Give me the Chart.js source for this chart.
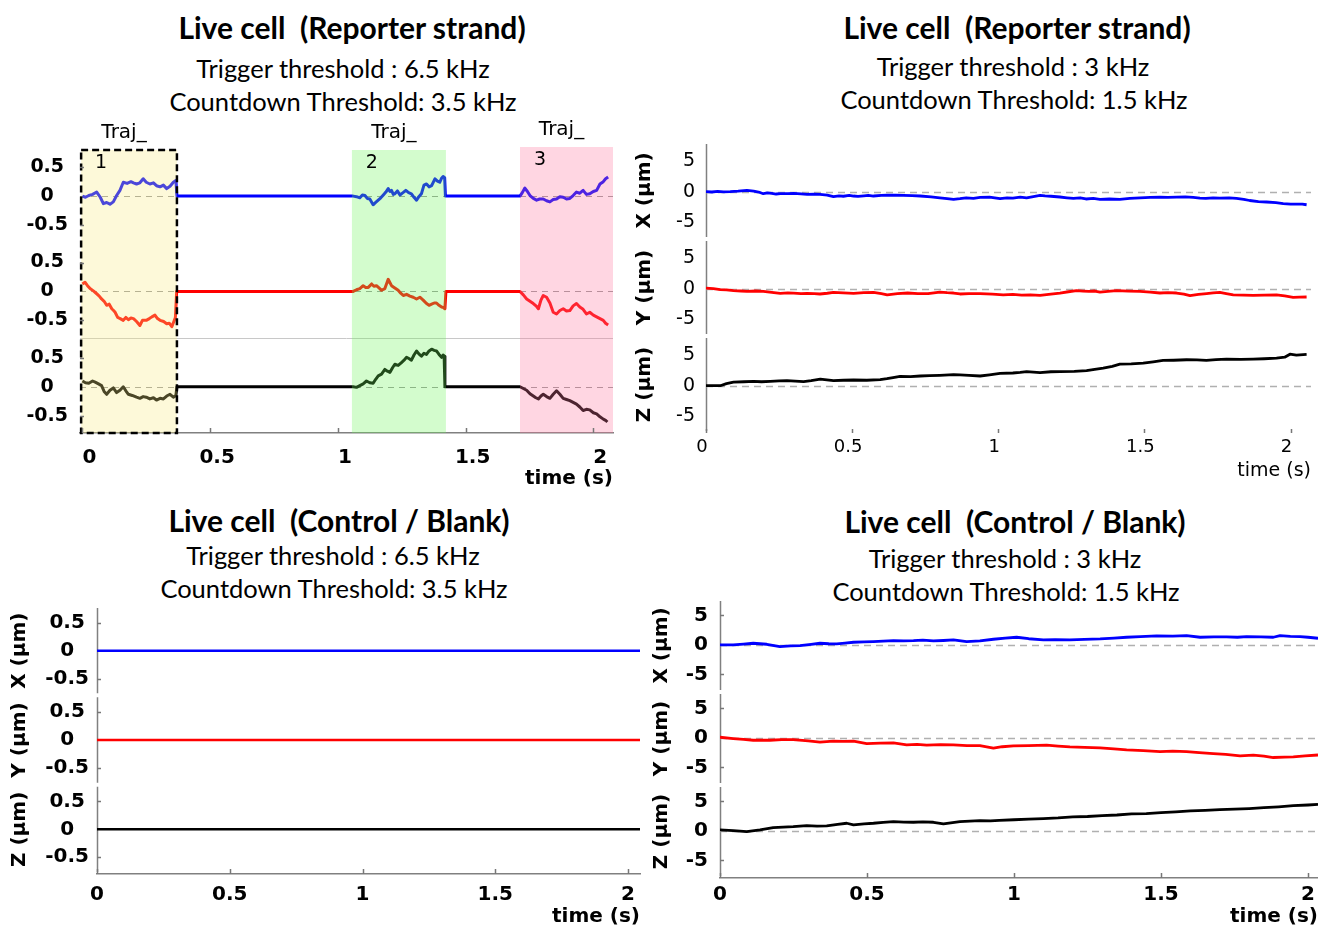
<!DOCTYPE html>
<html lang="en">
<head>
<meta charset="UTF-8">
<title>Live cell 3D tracking</title>
<script src="https://cdn.jsdelivr.net/npm/chart.js"></script>
<style>
  html, body { margin: 0; padding: 0; background: #fff; overflow: hidden; }
  body { width: 1318px; height: 930px; position: relative; font-family: Lato, "Open Sans", sans-serif; color: #000; }
  canvas { position: absolute; }
  .txt { position: absolute; transform: translate(-50%, -50%); white-space: pre; line-height: 1; }
  .ttl { font-weight: bold; font-size: 30px; }
  .sub { font-size: 25.5px; }
</style>
</head>
<body>
<div class="txt ttl" style="left:352px;top:27px">Live cell  (Reporter strand)</div>
<div class="txt sub" style="left:343px;top:69px">Trigger threshold : 6.5 kHz</div>
<div class="txt sub" style="left:343px;top:102px">Countdown Threshold: 3.5 kHz</div>

<div class="txt ttl" style="left:1017px;top:27px">Live cell  (Reporter strand)</div>
<div class="txt sub" style="left:1013px;top:67px">Trigger threshold : 3 kHz</div>
<div class="txt sub" style="left:1014px;top:100px">Countdown Threshold: 1.5 kHz</div>

<div class="txt ttl" style="left:339px;top:520px">Live cell  (Control / Blank)</div>
<div class="txt sub" style="left:333px;top:556px">Trigger threshold : 6.5 kHz</div>
<div class="txt sub" style="left:334px;top:589px">Countdown Threshold: 3.5 kHz</div>

<div class="txt ttl" style="left:1015px;top:521px">Live cell  (Control / Blank)</div>
<div class="txt sub" style="left:1005px;top:559px">Trigger threshold : 3 kHz</div>
<div class="txt sub" style="left:1006px;top:592px">Countdown Threshold: 1.5 kHz</div>

<canvas id="rep-fast" width="660" height="400" style="left:0;top:100px;width:660px;height:400px"></canvas>
<canvas id="rep-slow" width="745" height="390" style="left:600px;top:100px;width:745px;height:390px"></canvas>
<canvas id="ctl-fast" width="680" height="370" style="left:0;top:560px;width:680px;height:370px"></canvas>
<canvas id="ctl-slow" width="750" height="375" style="left:600px;top:555px;width:750px;height:375px"></canvas>

<script>
// ---- axis ticks ----
const timeTicks = [0, 0.5, 1, 1.5, 2];
const fineTicks = [-0.5, 0, 0.5];
const coarseTicks = [-5, 0, 5];

// ---- reporter strand, 6.5 kHz trigger: gated trajectory windows (s) ----
const trajStart = [-0.005, 1.055, 1.713];
const trajEnd = [0.37, 1.423, 2.077];
const trajNames = ['1', '2', '3'];

// X (um) -- three gated segments joined by the idle baseline
const repFastTimeX = [
  0, 0.012, 0.025, 0.04, 0.056, 0.07, 0.082, 0.095, 0.108, 0.121, 0.134, 0.147, 0.16, 0.175, 0.19, 0.2, 0.212, 0.225, 0.238, 0.25, 0.264, 0.278, 0.29, 0.304, 0.317, 0.33, 0.343, 0.356, 0.366, 0.37,
  1.06, 1.073, 1.086, 1.096, 1.106, 1.115, 1.125, 1.138, 1.148, 1.158, 1.168, 1.178, 1.188, 1.197, 1.204, 1.21, 1.217, 1.223, 1.233, 1.243, 1.255, 1.266, 1.277, 1.288, 1.298, 1.308, 1.317, 1.327, 1.337, 1.347, 1.357, 1.367, 1.38, 1.39, 1.399, 1.406, 1.412, 1.418, 1.421,
  1.713, 1.722, 1.732, 1.742, 1.752, 1.765, 1.778, 1.79, 1.804, 1.817, 1.83, 1.843, 1.856, 1.869, 1.882, 1.895, 1.908, 1.921, 1.934, 1.947, 1.96, 1.973, 1.986, 2.0, 2.013, 2.026, 2.039, 2.048, 2.058
];
const repFastX = [
  0, -0.02, 0.01, 0.03, 0.07, -0.02, -0.13, -0.11, -0.14, -0.1, 0.01, 0.1, 0.24, 0.22, 0.25, 0.23, 0.21, 0.23, 0.3, 0.24, 0.21, 0.23, 0.18, 0.16, 0.19, 0.13, 0.17, 0.24, 0.27, 0,
  0, -0.01, -0.03, 0.02, 0.01, -0.04, -0.05, -0.15, -0.11, -0.07, -0.03, 0.02, 0.07, 0.13, 0.08, 0.1, 0.03, 0.04, 0.09, 0.02, 0.06, 0.1, 0.06, 0.04, -0.02, -0.07, -0.01, 0.04, 0.19, 0.21, 0.16, 0.18, 0.3, 0.26, 0.24, 0.31, 0.34, 0.32, 0,
  0, 0.06, 0.14, 0.08, 0.01, -0.04, -0.07, -0.05, -0.05, -0.08, -0.1, -0.06, -0.05, -0.01, -0.02, -0.05, -0.04, 0.01, 0.07, 0.05, 0.1, 0.03, 0.04, 0.08, 0.1, 0.21, 0.25, 0.3, 0.33
];

// Y (um)
const repFastTimeY = [
  0, 0.01, 0.02, 0.03, 0.043, 0.056, 0.066, 0.075, 0.085, 0.095, 0.105, 0.115, 0.122, 0.128, 0.138, 0.148, 0.16, 0.17, 0.18, 0.19, 0.2, 0.212, 0.225, 0.235, 0.25, 0.262, 0.272, 0.284, 0.294, 0.304, 0.318, 0.33, 0.34, 0.35, 0.358, 0.364, 0.369,
  1.06, 1.073, 1.086, 1.099, 1.109, 1.119, 1.132, 1.141, 1.151, 1.161, 1.171, 1.184, 1.197, 1.204, 1.21, 1.223, 1.236, 1.246, 1.256, 1.269, 1.282, 1.295, 1.308, 1.321, 1.334, 1.347, 1.357, 1.367, 1.377, 1.386, 1.396, 1.406, 1.414, 1.419, 1.423,
  1.713, 1.726, 1.739, 1.752, 1.765, 1.778, 1.785, 1.795, 1.804, 1.817, 1.83, 1.843, 1.856, 1.869, 1.882, 1.895, 1.908, 1.921, 1.934, 1.947, 1.96, 1.973, 1.986, 2.0, 2.013, 2.026, 2.039, 2.048, 2.058
];
const repFastY = [
  0.13, 0.16, 0.1, 0.05, 0.01, -0.04, -0.08, -0.13, -0.17, -0.24, -0.22, -0.3, -0.33, -0.36, -0.45, -0.47, -0.5, -0.45, -0.49, -0.46, -0.47, -0.52, -0.59, -0.5, -0.5, -0.47, -0.44, -0.41, -0.47, -0.5, -0.52, -0.56, -0.55, -0.61, -0.52, -0.45, 0,
  0, 0.03, 0.05, 0.1, 0.07, 0.07, 0.13, 0.09, 0.1, 0.06, 0.02, 0.05, 0.21, 0.15, 0.1, 0.06, 0.02, -0.03, -0.07, -0.05, -0.08, -0.1, -0.13, -0.1, -0.15, -0.21, -0.24, -0.22, -0.2, -0.2, -0.24, -0.27, -0.28, -0.3, 0,
  0, -0.06, -0.13, -0.17, -0.21, -0.26, -0.3, -0.15, -0.07, -0.1, -0.2, -0.36, -0.39, -0.33, -0.3, -0.34, -0.33, -0.25, -0.21, -0.27, -0.31, -0.39, -0.36, -0.41, -0.44, -0.47, -0.5, -0.55, -0.58
];

// Z (um)
const repFastTimeZ = [
  0, 0.012, 0.025, 0.04, 0.05, 0.063, 0.075, 0.085, 0.095, 0.108, 0.121, 0.134, 0.147, 0.16, 0.17, 0.18, 0.195, 0.212, 0.225, 0.238, 0.25, 0.264, 0.278, 0.29, 0.304, 0.317, 0.33, 0.343, 0.356, 0.366, 0.37,
  1.06, 1.073, 1.086, 1.099, 1.112, 1.125, 1.138, 1.148, 1.158, 1.171, 1.184, 1.194, 1.204, 1.214, 1.223, 1.236, 1.249, 1.259, 1.269, 1.278, 1.288, 1.298, 1.308, 1.317, 1.327, 1.337, 1.347, 1.357, 1.367, 1.377, 1.386, 1.396, 1.406, 1.412, 1.416, 1.419,
  1.713, 1.726, 1.739, 1.752, 1.765, 1.775, 1.785, 1.795, 1.804, 1.817, 1.83, 1.843, 1.856, 1.869, 1.882, 1.895, 1.908, 1.921, 1.934, 1.947, 1.96, 1.973, 1.986, 2.0, 2.013, 2.026, 2.039, 2.048, 2.055
];
const repFastZ = [
  0.1, 0.07, 0.06, 0.1, 0.08, 0.05, 0.02, -0.08, -0.13, -0.06, -0.02, -0.1, -0.06, 0, -0.07, -0.13, -0.15, -0.18, -0.2, -0.17, -0.18, -0.21, -0.19, -0.23, -0.2, -0.21, -0.16, -0.13, -0.18, -0.15, 0,
  0, -0.01, 0.02, 0.05, 0.1, 0.07, 0.06, 0.13, 0.19, 0.22, 0.3, 0.27, 0.25, 0.33, 0.39, 0.37, 0.42, 0.46, 0.51, 0.49, 0.46, 0.55, 0.62, 0.57, 0.53, 0.58, 0.56, 0.62, 0.65, 0.63, 0.62, 0.56, 0.51, 0.55, 0.53, 0,
  0, -0.03, -0.06, -0.12, -0.16, -0.19, -0.21, -0.16, -0.13, -0.17, -0.2, -0.13, -0.07, -0.13, -0.2, -0.22, -0.24, -0.27, -0.3, -0.35, -0.41, -0.39, -0.4, -0.45, -0.47, -0.52, -0.56, -0.58, -0.61
];

// ---- reporter strand, 3 kHz trigger: continuous track ----
const repSlowTimeX = [0, 0.02, 0.04, 0.06, 0.083, 0.11, 0.14, 0.163, 0.18, 0.196, 0.21, 0.225, 0.24, 0.254, 0.28, 0.3, 0.325, 0.346, 0.37, 0.39, 0.415, 0.436, 0.455, 0.47, 0.49, 0.505, 0.52, 0.54, 0.555, 0.573, 0.6, 0.62, 0.65, 0.675, 0.705, 0.733, 0.77, 0.8, 0.825, 0.847, 0.869, 0.89, 0.915, 0.938, 0.97, 1.006, 1.03, 1.05, 1.075, 1.097, 1.12, 1.143, 1.16, 1.18, 1.211, 1.235, 1.257, 1.28, 1.3, 1.325, 1.348, 1.38, 1.416, 1.45, 1.485, 1.52, 1.553, 1.58, 1.61, 1.64, 1.667, 1.69, 1.71, 1.735, 1.758, 1.79, 1.815, 1.84, 1.86, 1.89, 1.918, 1.95, 1.975, 2.0, 2.02, 2.04, 2.055];
const repSlowX = [0, -0.05, 0.05, -0.02, 0, 0.08, 0.22, 0.1, -0.05, -0.33, -0.2, -0.28, -0.38, -0.33, -0.3, -0.27, -0.35, -0.44, -0.4, -0.44, -0.55, -0.82, -0.7, -0.75, -0.62, -0.71, -0.78, -0.68, -0.6, -0.71, -0.62, -0.55, -0.58, -0.6, -0.65, -0.71, -0.85, -1.0, -1.15, -1.27, -1.15, -1.0, -1.1, -0.95, -0.9, -1.15, -1.0, -1.05, -0.9, -1.0, -0.8, -0.6, -0.7, -0.75, -0.87, -1.0, -1.1, -1.0, -1.2, -1.1, -1.25, -1.2, -1.25, -1.1, -1.0, -0.95, -0.9, -0.95, -0.9, -0.85, -0.95, -1.05, -1.1, -1.0, -1.05, -1.0, -1.1, -1.25, -1.45, -1.65, -1.7, -1.8, -1.95, -2.05, -2.05, -2.05, -2.15, -2.2];

const repSlowTimeY = [0, 0.025, 0.049, 0.07, 0.094, 0.12, 0.14, 0.17, 0.196, 0.225, 0.254, 0.28, 0.3, 0.325, 0.346, 0.37, 0.39, 0.415, 0.436, 0.47, 0.505, 0.54, 0.573, 0.6, 0.62, 0.655, 0.69, 0.725, 0.76, 0.8, 0.825, 0.847, 0.869, 0.9, 0.938, 0.98, 1.017, 1.05, 1.08, 1.11, 1.143, 1.18, 1.211, 1.24, 1.268, 1.29, 1.31, 1.33, 1.348, 1.375, 1.405, 1.445, 1.485, 1.52, 1.553, 1.58, 1.61, 1.635, 1.656, 1.685, 1.713, 1.735, 1.758, 1.78, 1.804, 1.84, 1.872, 1.91, 1.952, 1.98, 2.009, 2.03, 2.055];
const repSlowY = [0.1, 0, -0.16, -0.2, -0.3, -0.38, -0.44, -0.38, -0.44, -0.6, -0.77, -0.7, -0.72, -0.8, -0.77, -0.82, -0.87, -0.75, -0.6, -0.7, -0.77, -0.65, -0.6, -0.8, -1.0, -0.8, -0.71, -0.8, -0.82, -0.55, -0.65, -0.71, -0.87, -0.8, -0.82, -0.9, -1.0, -0.95, -1.05, -1.0, -1.1, -0.9, -0.71, -0.5, -0.33, -0.4, -0.45, -0.38, -0.55, -0.45, -0.33, -0.4, -0.44, -0.55, -0.71, -0.65, -0.71, -0.9, -1.15, -0.95, -0.82, -0.7, -0.6, -0.8, -1.0, -1.05, -1.1, -1.05, -1.0, -1.2, -1.42, -1.4, -1.37];

const repSlowTimeZ = [0, 0.049, 0.07, 0.094, 0.13, 0.163, 0.19, 0.22, 0.25, 0.277, 0.305, 0.334, 0.36, 0.391, 0.436, 0.47, 0.505, 0.55, 0.596, 0.619, 0.64, 0.664, 0.7, 0.733, 0.765, 0.8, 0.847, 0.869, 0.9, 0.938, 0.97, 1.006, 1.05, 1.075, 1.097, 1.12, 1.143, 1.18, 1.211, 1.26, 1.302, 1.33, 1.359, 1.39, 1.416, 1.455, 1.496, 1.53, 1.564, 1.6, 1.644, 1.68, 1.712, 1.745, 1.781, 1.83, 1.872, 1.91, 1.952, 1.98, 1.998, 2.02, 2.055];
const repSlowZ = [0, 0, 0.35, 0.6, 0.65, 0.72, 0.65, 0.72, 0.8, 0.83, 0.75, 0.67, 0.85, 1.1, 0.83, 0.9, 0.94, 0.9, 1.0, 1.17, 1.35, 1.55, 1.5, 1.6, 1.65, 1.72, 1.83, 1.78, 1.7, 1.6, 1.8, 2.05, 2.1, 2.2, 2.33, 2.25, 2.17, 2.3, 2.33, 2.35, 2.5, 2.7, 2.9, 3.2, 3.55, 3.6, 3.72, 3.95, 4.17, 4.2, 4.28, 4.25, 4.17, 4.3, 4.39, 4.35, 4.39, 4.45, 4.55, 4.7, 5.2, 5.05, 5.17];

// ---- control / blank, 6.5 kHz trigger: never triggered ----
const ctlFastTime = [0, 2.045];
const ctlFastX = [0, 0];
const ctlFastY = [0, 0];
const ctlFastZ = [0, 0];

// ---- control / blank, 3 kHz trigger ----
const ctlSlowTimeX = [0, 0.045, 0.08, 0.113, 0.159, 0.204, 0.24, 0.272, 0.31, 0.34, 0.37, 0.397, 0.425, 0.454, 0.49, 0.522, 0.555, 0.59, 0.625, 0.658, 0.69, 0.726, 0.76, 0.794, 0.839, 0.884, 0.93, 0.97, 1.009, 1.05, 1.1, 1.14, 1.19, 1.24, 1.293, 1.34, 1.383, 1.43, 1.485, 1.54, 1.587, 1.633, 1.68, 1.723, 1.76, 1.791, 1.84, 1.882, 1.905, 1.94, 1.973, 2.0, 2.034];
const ctlSlowX = [0, 0, 0.15, 0.28, 0.11, -0.28, -0.15, -0.11, 0.1, 0.28, 0.2, 0.17, 0.3, 0.45, 0.5, 0.56, 0.65, 0.73, 0.7, 0.73, 0.8, 0.68, 0.75, 0.85, 0.56, 0.7, 0.96, 1.15, 1.3, 1.05, 0.85, 0.9, 0.85, 0.95, 1.02, 1.15, 1.3, 1.4, 1.53, 1.5, 1.58, 1.3, 1.35, 1.36, 1.3, 1.41, 1.35, 1.3, 1.58, 1.45, 1.41, 1.3, 1.13];

const ctlSlowTimeY = [0, 0.045, 0.08, 0.113, 0.17, 0.21, 0.249, 0.3, 0.34, 0.385, 0.42, 0.454, 0.499, 0.545, 0.59, 0.635, 0.67, 0.703, 0.75, 0.794, 0.84, 0.884, 0.93, 0.96, 0.998, 1.05, 1.111, 1.15, 1.19, 1.24, 1.293, 1.34, 1.383, 1.44, 1.497, 1.54, 1.587, 1.63, 1.678, 1.72, 1.769, 1.814, 1.85, 1.882, 1.92, 1.95, 1.99, 2.034];
const ctlSlowY = [0.11, -0.11, -0.25, -0.4, -0.4, -0.3, -0.28, -0.5, -0.73, -0.56, -0.6, -0.56, -0.96, -0.9, -0.85, -1.19, -1.1, -1.24, -1.15, -1.19, -1.3, -1.3, -1.75, -1.5, -1.36, -1.3, -1.24, -1.4, -1.53, -1.6, -1.7, -1.85, -2.03, -2.15, -2.32, -2.25, -2.32, -2.5, -2.66, -2.8, -3.05, -2.94, -3.1, -3.33, -3.25, -3.22, -3.05, -2.9];

const ctlSlowTimeZ = [0, 0.045, 0.091, 0.136, 0.181, 0.215, 0.249, 0.295, 0.33, 0.363, 0.4, 0.431, 0.454, 0.49, 0.522, 0.555, 0.59, 0.625, 0.658, 0.69, 0.726, 0.76, 0.816, 0.85, 0.884, 0.92, 0.95, 1.0, 1.05, 1.1, 1.15, 1.2, 1.25, 1.3, 1.35, 1.4, 1.45, 1.5, 1.55, 1.6, 1.65, 1.7, 1.75, 1.8, 1.85, 1.9, 1.95, 2.0, 2.034];
const ctlSlowZ = [0.17, 0.06, -0.11, 0.17, 0.56, 0.65, 0.73, 0.9, 0.8, 0.85, 1.1, 1.3, 1.02, 1.2, 1.3, 1.45, 1.58, 1.5, 1.47, 1.55, 1.47, 1.19, 1.58, 1.65, 1.75, 1.7, 1.8, 1.9, 2.0, 2.1, 2.2, 2.4, 2.45, 2.6, 2.7, 2.9, 2.95, 3.1, 3.25, 3.4, 3.5, 3.6, 3.7, 3.8, 3.95, 4.1, 4.3, 4.4, 4.5];

// ---- styling ----
const FONT = '"DejaVu Sans", sans-serif';
Chart.defaults.font.family = FONT;
Chart.defaults.color = '#000';

const rowIds = ['yX', 'yY', 'yZ'];
const rowTitles = ['X (\u00b5m)', 'Y (\u00b5m)', 'Z (\u00b5m)'];
const rowColors = ['#0000ff', '#ff0000', '#000000'];
const boxFill = ['rgba(248,236,130,0.3)', 'rgba(110,245,90,0.3)', 'rgba(255,120,160,0.3)'];
const boxInset = [3, 3, 0];

function pts(t, v) {
  return t.map((x, i) => ({ x: x, y: v[i] }));
}

// dashed reference line at 0 in every row
function zeroLines(color, dash, width) {
  return {
    id: 'zeroLines',
    beforeDatasetsDraw(chart) {
      const { ctx, chartArea, scales } = chart;
      ctx.save();
      ctx.strokeStyle = color;
      ctx.lineWidth = width;
      ctx.setLineDash(dash);
      rowIds.forEach(id => {
        const y = Math.round(scales[id].getPixelForValue(0)) + 0.5;
        ctx.beginPath();
        ctx.moveTo(chartArea.left, y);
        ctx.lineTo(chartArea.right, y);
        ctx.stroke();
      });
      ctx.restore();
    }
  };
}

// one y-axis line per row, with a small break between rows
const rowAxes = {
  id: 'rowAxes',
  beforeDatasetsDraw(chart) {
    const { ctx, chartArea, scales } = chart;
    const x = Math.round(chartArea.left) + 0.5;
    ctx.save();
    ctx.strokeStyle = '#808080';
    ctx.lineWidth = 1.5;
    ctx.beginPath();
    rowIds.forEach(id => {
      ctx.moveTo(x, scales[id].top + 2);
      ctx.lineTo(x, scales[id].bottom - 2);
    });
    ctx.stroke();
    ctx.restore();
  }
};

// small tick marks pointing into the plot
function innerTicks(xLen, yTicks, yLen) {
  return {
    id: 'innerTicks',
    afterDatasetsDraw(chart) {
      const { ctx, chartArea, scales } = chart;
      ctx.save();
      ctx.strokeStyle = '#777';
      ctx.lineWidth = 1.5;
      ctx.beginPath();
      timeTicks.forEach(v => {
        const x = Math.round(scales.x.getPixelForValue(v)) + 0.5;
        ctx.moveTo(x, chartArea.bottom);
        ctx.lineTo(x, chartArea.bottom - xLen);
      });
      if (yTicks) {
        rowIds.forEach(id => yTicks.forEach(v => {
          if (v === 0) return;
          const y = Math.round(scales[id].getPixelForValue(v)) + 0.5;
          ctx.moveTo(chartArea.left, y);
          ctx.lineTo(chartArea.left + yLen, y);
        }));
      }
      ctx.stroke();
      ctx.restore();
    }
  };
}

// shaded trajectory windows, drawn over the traces so they tint them
const trajBoxes = {
  id: 'trajBoxes',
  afterDatasetsDraw(chart) {
    const { ctx, chartArea, scales } = chart;
    const xs = scales.x;
    ctx.save();
    // thin separator between the Y and Z rows
    const sep = Math.round(scales.yZ.top) + 0.5;
    ctx.strokeStyle = '#c8c8c8';
    ctx.lineWidth = 1;
    ctx.beginPath();
    ctx.moveTo(chartArea.left, sep);
    ctx.lineTo(chartArea.right, sep);
    ctx.stroke();

    trajStart.forEach((t0, i) => {
      const x0 = xs.getPixelForValue(t0);
      const x1 = xs.getPixelForValue(trajEnd[i]);
      const top = chartArea.top + boxInset[i];
      ctx.fillStyle = boxFill[i];
      ctx.fillRect(x0, top, x1 - x0, chartArea.bottom - top);
      if (i === 0) {
        ctx.strokeStyle = '#000';
        ctx.lineWidth = 2.5;
        ctx.setLineDash([7, 4]);
        ctx.strokeRect(x0, top, x1 - x0, chartArea.bottom - top);
        ctx.setLineDash([]);
      }
      ctx.fillStyle = '#000';
      ctx.textAlign = 'center';
      ctx.textBaseline = 'middle';
      ctx.font = '20px ' + FONT;
      ctx.fillText('Traj_', (x0 + x1) / 2 - 5, top - 17);
      ctx.font = '19px ' + FONT;
      ctx.fillText(trajNames[i], x0 + 20, top + 13);
    });
    ctx.restore();
  }
};

function fixedTicks(values) {
  return scale => { scale.ticks = values.map(v => ({ value: v })); };
}

function buildPanel(canvasId, p) {
  const scales = {
    x: {
      type: 'linear',
      min: p.xMin,
      max: p.xMax,
      afterBuildTicks: fixedTicks(timeTicks),
      afterFit: s => { s.height = p.xHeight; },
      grid: { display: false, drawTicks: false },
      border: { display: p.xBorder, color: '#808080', width: 1.5 },
      ticks: {
        font: { size: p.xTickSize, weight: p.xWeight },
        padding: p.xTickPad,
        labelOffset: p.xLabelOffset,
        maxRotation: 0,
        callback: v => String(v)
      },
      title: {
        display: true, text: 'time (s)', align: 'end',
        font: { size: p.xTitleSize, weight: p.xWeight },
        padding: { top: 0, bottom: p.xTitlePad }
      }
    }
  };
  rowIds.forEach((id, i) => {
    scales[id] = {
      type: 'linear',
      position: 'left',
      stack: 'rows',
      stackWeight: 1,
      weight: 3 - i,
      min: p.yMin,
      max: p.yMax,
      afterBuildTicks: fixedTicks(p.yTicks),
      afterFit: s => { s.width = p.yWidth; },
      grid: { display: false, drawTicks: false },
      border: { display: false },
      ticks: {
        font: { size: p.yTickSize, weight: p.yWeight },
        padding: p.yTickPad,
        crossAlign: p.yAlign,
        callback: v => String(v)
      },
      title: {
        display: p.yTitles,
        text: rowTitles[i],
        font: { size: 20, weight: 'bold' },
        padding: { top: p.yTitlePad, bottom: 0 }
      }
    };
  });

  const datasets = p.rows.map((r, i) => ({
    data: pts(r[0], r[1]),
    yAxisID: rowIds[i],
    borderColor: rowColors[i],
    borderWidth: p.lineWidth,
    pointRadius: 0,
    tension: 0,
    fill: false,
    borderJoinStyle: 'round'
  }));

  return new Chart(document.getElementById(canvasId), {
    type: 'line',
    data: { datasets: datasets },
    options: {
      responsive: false,
      animation: false,
      devicePixelRatio: 1,
      layout: { padding: p.padding },
      plugins: { legend: { display: false }, tooltip: { enabled: false } },
      scales: scales
    },
    plugins: p.plugins
  });
}

// top left: gated trajectories, 6.5 kHz trigger
buildPanel('rep-fast', {
  xMin: -0.0094, xMax: 2.077, xHeight: 67, xBorder: true,
  xTickSize: 20, xWeight: 'bold', xTickPad: 13, xLabelOffset: 7, xTitleSize: 20, xTitlePad: 9,
  yMin: -0.8, yMax: 0.85, yTicks: fineTicks, yWidth: 80,
  yTickSize: 19, yWeight: 'bold', yTickPad: 12, yAlign: 'center', yTitles: false, yTitlePad: 0,
  lineWidth: 3,
  padding: { left: 0, top: 47, right: 47, bottom: 0 },
  rows: [[repFastTimeX, repFastX], [repFastTimeY, repFastY], [repFastTimeZ, repFastZ]],
  plugins: [zeroLines('#9a9a9a', [6, 5], 1), trajBoxes, innerTicks(5, fineTicks, 4)]
});

// top right: continuous track, 3 kHz trigger
buildPanel('rep-slow', {
  xMin: 0, xMax: 2.07, xHeight: 57, xBorder: false,
  xTickSize: 18, xWeight: 'normal', xTickPad: 4, xLabelOffset: -4, xTitleSize: 19, xTitlePad: 8,
  yMin: -7.8, yMax: 8.2, yTicks: coarseTicks, yWidth: 106,
  yTickSize: 19, yWeight: 'normal', yTickPad: 11, yAlign: 'near', yTitles: true, yTitlePad: 33,
  lineWidth: 2.8,
  padding: { left: 0, top: 42, right: 34, bottom: 0 },
  rows: [[repSlowTimeX, repSlowX], [repSlowTimeY, repSlowY], [repSlowTimeZ, repSlowZ]],
  plugins: [rowAxes, zeroLines('#b0b0b0', [7, 5], 1.5), innerTicks(4, null, 0)]
});

// bottom left: control, 6.5 kHz trigger
buildPanel('ctl-fast', {
  xMin: 0, xMax: 2.045, xHeight: 56, xBorder: true,
  xTickSize: 20, xWeight: 'bold', xTickPad: 9, xLabelOffset: 0, xTitleSize: 20, xTitlePad: 1,
  yMin: -0.8, yMax: 0.8, yTicks: fineTicks, yWidth: 97,
  yTickSize: 20, yWeight: 'bold', yTickPad: 8, yAlign: 'center', yTitles: true, yTitlePad: 8,
  lineWidth: 2.5,
  padding: { left: 0, top: 46, right: 40, bottom: 0 },
  rows: [[ctlFastTime, ctlFastX], [ctlFastTime, ctlFastY], [ctlFastTime, ctlFastZ]],
  plugins: [rowAxes, innerTicks(5, fineTicks, 4)]
});

// bottom right: control, 3 kHz trigger
buildPanel('ctl-slow', {
  xMin: 0, xMax: 2.034, xHeight: 52, xBorder: true,
  xTickSize: 20, xWeight: 'bold', xTickPad: 5, xLabelOffset: 0, xTitleSize: 20, xTitlePad: 1,
  yMin: -8, yMax: 7.8, yTicks: coarseTicks, yWidth: 120,
  yTickSize: 20, yWeight: 'bold', yTickPad: 12, yAlign: 'near', yTitles: true, yTitlePad: 50,
  lineWidth: 2.8,
  padding: { left: 0, top: 44, right: 32, bottom: 0 },
  rows: [[ctlSlowTimeX, ctlSlowX], [ctlSlowTimeY, ctlSlowY], [ctlSlowTimeZ, ctlSlowZ]],
  plugins: [rowAxes, zeroLines('#b0b0b0', [7, 5], 1.5), innerTicks(5, coarseTicks, 4)]
});
</script>
</body>
</html>
